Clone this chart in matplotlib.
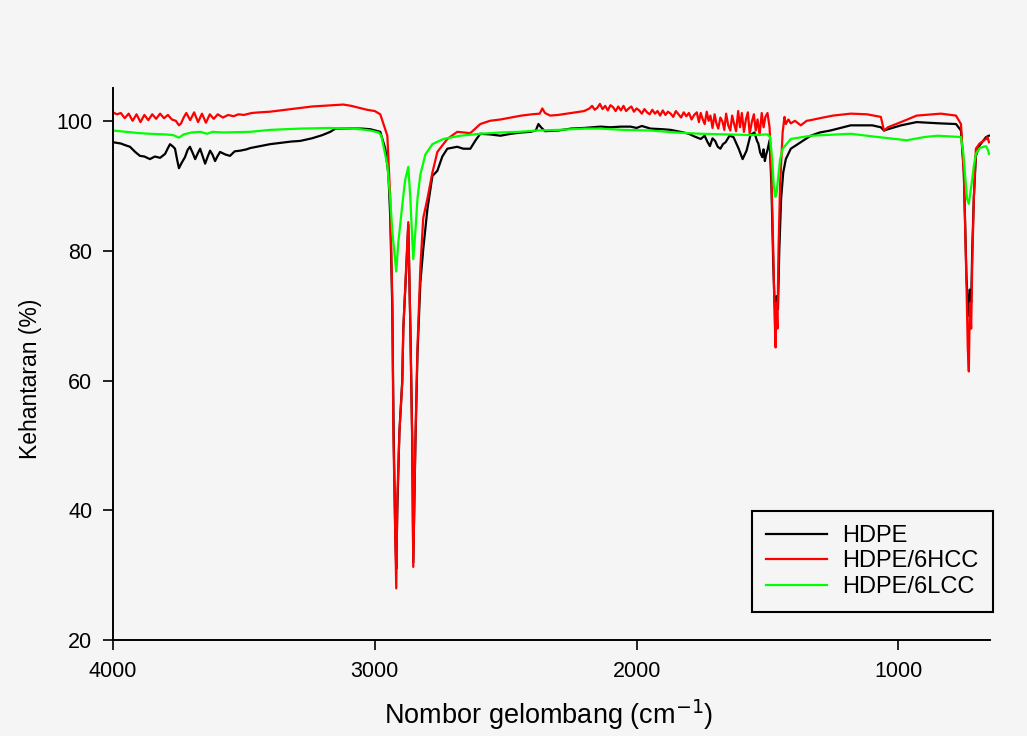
import matplotlib
matplotlib.use('Agg')
import matplotlib.pyplot as plt

# FTIR spectra, values (wavenumber, transmittance)
hdpe_pts = [
    (4000, 96.7), (3970, 96.5), (3950, 96.2), (3935, 96.0), (3915, 95.2), (3897, 94.6),
    (3880, 94.5), (3859, 94.1), (3840, 94.5), (3820, 94.3), (3801, 94.9), (3790, 95.8),
    (3782, 96.4), (3770, 96.0), (3763, 95.7), (3755, 94.0), (3748, 92.7), (3738, 93.5),
    (3725, 94.4), (3715, 95.5), (3706, 96.0), (3695, 95.0), (3686, 94.1), (3676, 95.0),
    (3667, 95.7), (3657, 94.5), (3648, 93.4), (3638, 94.5), (3629, 95.4), (3620, 94.8),
    (3610, 93.8), (3600, 94.6), (3591, 95.2), (3570, 94.8), (3553, 94.6), (3535, 95.3),
    (3514, 95.4), (3490, 95.6), (3476, 95.8), (3438, 96.1), (3400, 96.4), (3361, 96.6),
    (3320, 96.8), (3285, 96.9), (3240, 97.3), (3200, 97.8), (3170, 98.3), (3150, 98.8),
    (3100, 98.8), (3050, 98.8), (3017, 98.7), (2979, 98.3), (2960, 95.7), (2948, 91.8),
    (2941, 85.3), (2933, 71.0), (2928, 52.0), (2922, 37.0), (2918, 31.0), (2914, 40.0),
    (2906, 52.0), (2895, 60.0), (2891, 68.0), (2880, 77.0), (2872, 84.0), (2864, 68.0),
    (2857, 51.0), (2853, 32.0), (2845, 50.0), (2837, 64.0), (2826, 75.0), (2815, 80.2),
    (2799, 86.4), (2780, 91.5), (2761, 92.3), (2742, 94.5), (2723, 95.7), (2685, 96.0),
    (2662, 95.7), (2635, 95.7), (2615, 97.0), (2597, 98.0), (2560, 97.9), (2520, 97.7),
    (2480, 98.0), (2440, 98.2), (2405, 98.3), (2385, 98.5), (2375, 99.5), (2365, 99.0),
    (2350, 98.4), (2300, 98.5), (2250, 98.8), (2200, 98.9), (2138, 99.1), (2100, 99.0),
    (2060, 99.1), (2023, 99.1), (2000, 98.9), (1980, 99.2), (1947, 98.8), (1900, 98.7),
    (1870, 98.6), (1832, 98.3), (1800, 98.0), (1780, 97.6), (1755, 97.2), (1740, 97.7),
    (1730, 96.8), (1720, 96.1), (1710, 97.3), (1700, 96.9), (1690, 96.0), (1680, 95.7),
    (1670, 96.4), (1660, 96.7), (1645, 97.7), (1630, 97.5), (1620, 96.6), (1610, 95.7),
    (1595, 94.1), (1580, 95.4), (1565, 97.8), (1550, 98.2), (1540, 96.9), (1535, 96.5),
    (1528, 95.1), (1520, 94.4), (1515, 95.6), (1510, 93.8), (1505, 94.8), (1500, 95.5),
    (1492, 97.0), (1485, 90.0), (1478, 78.0), (1473, 72.0), (1469, 70.0), (1465, 73.0),
    (1460, 71.0), (1455, 80.0), (1448, 88.0), (1440, 92.0), (1430, 94.1), (1411, 95.7),
    (1373, 96.7), (1335, 97.7), (1300, 98.2), (1260, 98.5), (1182, 99.3), (1100, 99.3),
    (1067, 99.0), (1055, 98.5), (1040, 98.7), (990, 99.3), (930, 99.8), (840, 99.6),
    (780, 99.5), (761, 98.5), (750, 92.0), (740, 76.0), (735, 72.0), (731, 70.0),
    (727, 74.0), (722, 72.0), (718, 80.0), (712, 88.0), (704, 94.6), (690, 96.2),
    (665, 97.5), (654, 97.7),
]

hcc_pts = [
    (4000, 101.3), (3985, 101.0), (3970, 101.2), (3955, 100.4), (3940, 101.1), (3925, 100.0),
    (3910, 101.0), (3895, 99.8), (3880, 100.9), (3865, 100.1), (3850, 101.0), (3835, 100.3),
    (3820, 101.1), (3805, 100.4), (3790, 100.9), (3775, 100.2), (3760, 100.0), (3748, 99.3),
    (3740, 99.6), (3730, 100.5), (3720, 101.2), (3705, 100.1), (3690, 101.3), (3675, 99.8),
    (3660, 101.1), (3645, 99.7), (3630, 101.0), (3615, 100.3), (3600, 101.0), (3580, 100.5),
    (3560, 100.9), (3540, 100.7), (3520, 101.0), (3500, 100.9), (3470, 101.2), (3440, 101.3),
    (3400, 101.4), (3360, 101.6), (3320, 101.8), (3280, 102.0), (3240, 102.2), (3200, 102.3),
    (3160, 102.4), (3120, 102.5), (3090, 102.3), (3060, 102.0), (3030, 101.7), (3000, 101.5),
    (2979, 101.0), (2952, 97.7), (2941, 88.0), (2933, 72.5), (2929, 52.0), (2922, 36.5),
    (2918, 28.0), (2914, 41.6), (2906, 52.0), (2895, 59.7), (2891, 68.0), (2880, 77.3),
    (2872, 84.4), (2864, 68.0), (2857, 50.6), (2853, 31.3), (2845, 50.6), (2837, 65.0),
    (2826, 77.3), (2815, 85.0), (2799, 88.0), (2780, 92.0), (2761, 95.2), (2723, 97.2),
    (2685, 98.3), (2660, 98.2), (2635, 98.1), (2597, 99.5), (2560, 100.0), (2520, 100.2),
    (2480, 100.5), (2440, 100.8), (2400, 101.0), (2370, 101.1), (2360, 101.9), (2350, 101.2),
    (2330, 100.8), (2300, 100.9), (2250, 101.2), (2200, 101.5), (2180, 101.9), (2170, 102.3),
    (2160, 101.7), (2150, 102.0), (2140, 102.6), (2130, 101.8), (2120, 102.3), (2110, 101.6),
    (2100, 102.4), (2090, 102.1), (2080, 101.5), (2070, 102.2), (2060, 101.6), (2050, 102.3),
    (2040, 101.5), (2030, 101.9), (2020, 102.2), (2010, 101.4), (2000, 101.9), (1990, 101.6),
    (1980, 101.1), (1970, 101.8), (1960, 101.3), (1950, 101.0), (1940, 101.7), (1930, 101.1),
    (1920, 101.5), (1910, 100.8), (1900, 101.6), (1890, 100.9), (1880, 101.4), (1870, 101.1),
    (1860, 100.6), (1850, 101.5), (1840, 101.0), (1830, 100.5), (1820, 101.3), (1810, 100.7),
    (1800, 101.2), (1790, 100.2), (1780, 100.9), (1770, 101.3), (1762, 99.8), (1755, 101.2),
    (1748, 100.3), (1740, 99.5), (1732, 101.4), (1725, 100.0), (1718, 100.8), (1710, 98.9),
    (1702, 101.0), (1695, 99.6), (1688, 98.8), (1680, 100.5), (1672, 99.9), (1665, 98.6),
    (1658, 101.1), (1650, 99.3), (1642, 98.5), (1635, 100.8), (1628, 99.6), (1620, 98.4),
    (1612, 101.5), (1605, 99.0), (1598, 101.2), (1590, 98.3), (1582, 100.3), (1575, 101.3),
    (1568, 98.0), (1560, 99.8), (1552, 101.0), (1545, 98.5), (1538, 100.2), (1530, 97.8),
    (1522, 101.2), (1515, 99.0), (1508, 100.6), (1500, 101.2), (1492, 99.0), (1485, 92.0),
    (1478, 80.0), (1473, 70.0), (1469, 65.1), (1466, 72.0), (1462, 68.0), (1458, 80.0),
    (1452, 90.0), (1445, 96.0), (1442, 98.3), (1435, 100.6), (1430, 99.5), (1420, 100.2),
    (1411, 99.6), (1395, 100.0), (1373, 99.3), (1350, 100.0), (1335, 100.1), (1300, 100.4),
    (1250, 100.8), (1182, 101.1), (1120, 101.0), (1067, 100.6), (1055, 98.5), (1040, 99.0),
    (990, 99.8), (930, 100.8), (838, 101.1), (780, 100.8), (761, 99.5), (750, 92.0),
    (740, 75.0), (735, 65.0), (731, 61.4), (727, 72.0), (722, 68.0), (718, 78.0),
    (712, 88.0), (704, 95.7), (690, 96.5), (665, 97.2), (660, 97.5), (654, 96.7),
]

lcc_pts = [
    (4000, 98.5), (3950, 98.3), (3900, 98.1), (3859, 98.0), (3800, 97.9), (3770, 97.8),
    (3748, 97.4), (3730, 97.9), (3700, 98.2), (3667, 98.3), (3640, 98.0), (3620, 98.3),
    (3580, 98.2), (3476, 98.3), (3400, 98.6), (3285, 98.8), (3170, 98.9), (3055, 98.7),
    (3017, 98.5), (2985, 98.2), (2975, 97.7), (2952, 93.2), (2941, 88.0), (2933, 82.9),
    (2918, 76.8), (2910, 81.3), (2895, 87.0), (2884, 90.9), (2872, 92.9), (2864, 88.0),
    (2857, 81.8), (2853, 78.7), (2845, 82.9), (2837, 88.0), (2826, 91.7), (2807, 94.8),
    (2780, 96.4), (2738, 97.2), (2673, 97.7), (2597, 98.0), (2520, 98.2), (2450, 98.3),
    (2380, 98.5), (2300, 98.6), (2200, 98.8), (2138, 98.8), (2050, 98.6), (1947, 98.5),
    (1850, 98.2), (1755, 98.0), (1650, 97.9), (1560, 97.8), (1500, 97.9), (1490, 97.5),
    (1482, 94.0), (1476, 90.0), (1470, 88.3), (1465, 89.0), (1460, 91.0), (1452, 94.0),
    (1442, 95.7), (1411, 97.2), (1335, 97.7), (1182, 98.0), (1100, 97.6), (968, 97.0),
    (900, 97.5), (850, 97.7), (761, 97.5), (752, 95.0), (744, 91.0), (738, 88.0),
    (731, 87.2), (725, 89.0), (718, 91.0), (712, 93.0), (704, 94.9), (690, 95.8),
    (665, 96.1), (658, 95.5), (654, 94.9),
]

x_ticks = [4000, 3000, 2000, 1000]
y_ticks = [20, 40, 60, 80, 100]

wn_hdpe, t_hdpe = zip(*hdpe_pts)
wn_hcc, t_hcc = zip(*hcc_pts)
wn_lcc, t_lcc = zip(*lcc_pts)

bg = '#f5f5f5'
plt.rcParams['font.family'] = ['Liberation Sans', 'DejaVu Sans']

fig = plt.figure(figsize=(10.27, 7.36), dpi=100, facecolor=bg)
ax = fig.add_axes([0.110, 0.130, 0.854, 0.750], facecolor=bg)

ax.plot(wn_hdpe, t_hdpe, color='black', lw=1.6, label='HDPE')
ax.plot(wn_hcc, t_hcc, color='#ff0000', lw=1.6, label='HDPE/6HCC')
ax.plot(wn_lcc, t_lcc, color='#00ff00', lw=1.6, label='HDPE/6LCC')

ax.set_xlim(4000, 650)
ax.set_ylim(20, 105)
ax.set_xticks(x_ticks)
ax.set_yticks(y_ticks)
for s in ['top', 'right']:
    ax.spines[s].set_visible(False)
for s in ['left', 'bottom']:
    ax.spines[s].set_linewidth(1.4)
ax.tick_params(axis='both', direction='out', length=7, width=1.2, labelsize=15.5)
ax.tick_params(axis='y', pad=8)
ax.tick_params(axis='x', pad=8)

ax.set_xlabel('Nombor gelombang (cm$^{-1}$)', fontsize=19.5)
ax.xaxis.set_label_coords(0.497, -0.104)
ax.set_ylabel('Kehantaran (%)', fontsize=16.5)
ax.yaxis.set_label_coords(-0.081, 0.473)

leg = ax.legend(loc='lower right', bbox_to_anchor=(1.0034, 0.051), fontsize=17, frameon=True,
                fancybox=False, edgecolor='black', facecolor=bg, framealpha=1,
                handlelength=2.6, labelspacing=0.15, borderpad=0.6, handletextpad=0.65,
                borderaxespad=0)
leg.get_frame().set_linewidth(1.5)

fig.savefig('out.png', dpi=100, facecolor=bg)
